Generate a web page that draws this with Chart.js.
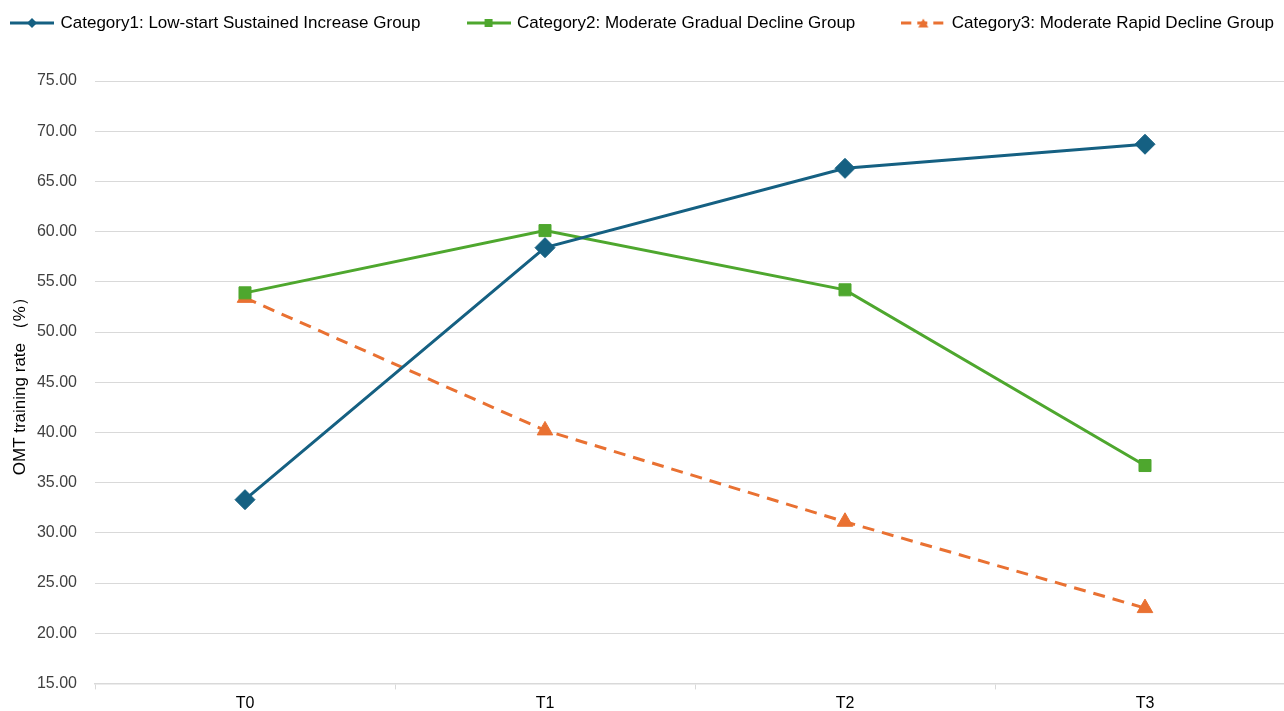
<!DOCTYPE html>
<html>
<head>
<meta charset="utf-8">
<script src="https://cdn.jsdelivr.net/npm/chart.js@4/dist/chart.umd.min.js"></script>
<style>
  html, body { margin: 0; padding: 0; background: #ffffff; overflow: hidden; }
  #wrap { width: 1284px; height: 711px; overflow: hidden; position: relative; }
  #box { width: 1306px; height: 711px; position: absolute; left: 0; top: 0; }
</style>
</head>
<body>
<div id="wrap"><div id="box"><canvas id="c"></canvas></div></div>
<script>
const categories = ['T0', 'T1', 'T2', 'T3'];
const seriesNames = [
  'Category1: Low-start Sustained Increase Group',
  'Category2: Moderate Gradual Decline Group',
  'Category3: Moderate Rapid Decline Group'
];
const category1 = [33.3, 58.4, 66.3, 68.7];
const category2 = [53.9, 60.1, 54.2, 36.7];
const category3 = [53.4, 40.2, 31.1, 22.5];
const yTicks = [15, 20, 25, 30, 35, 40, 45, 50, 55, 60, 65, 70, 75];
const yTitle = 'OMT training rate （%）';

const FONT = "'Liberation Sans', Arial, sans-serif";
const colors = ['#156082', '#4EA72E', '#E97132'];

function legendIcon(color, style, dashed) {
  const cv = document.createElement('canvas');
  cv.width = 44; cv.height = 14;
  const ctx = cv.getContext('2d');
  ctx.strokeStyle = color; ctx.fillStyle = color; ctx.lineWidth = 3;
  if (dashed) ctx.setLineDash([10, 6]);
  ctx.beginPath(); ctx.moveTo(0, 7); ctx.lineTo(44, 7); ctx.stroke();
  ctx.setLineDash([]);
  ctx.beginPath();
  if (style === 'diamond') {
    ctx.moveTo(22, 2); ctx.lineTo(27, 7); ctx.lineTo(22, 12); ctx.lineTo(17, 7);
  } else if (style === 'square') {
    ctx.rect(18, 3, 8, 8);
  } else {
    ctx.moveTo(22, 2.5); ctx.lineTo(27, 11.5); ctx.lineTo(17, 11.5);
  }
  ctx.closePath(); ctx.fill();
  return cv;
}
const icons = [legendIcon(colors[0], 'diamond'), legendIcon(colors[1], 'square'), legendIcon(colors[2], 'triangle', true)];

const legendFix = {
  id: 'legendFix',
  beforeLayout(chart) {
    const lg = chart.legend;
    if (lg && !lg._fixed) {
      const orig = lg.fit;
      lg.fit = function () {
        const mw = this.maxWidth;
        this.maxWidth = 4000;
        orig.call(this);
        this.maxWidth = mw;
        this.width = mw;
        this.height = 114.5;
      };
      lg._fixed = true;
    }
  },
  afterLayout(chart) {
    const lg = chart.legend;
    if (lg) {
      const pad = lg.options.labels.padding;
      const lw = lg.lineWidths ? lg.lineWidths[0] : 0;
      const R = 1400;
      const L = 2 * 12 + lw - pad - R;
      lg.left = L; lg.right = R; lg.width = R - L;
    }
  }
};

new Chart(document.getElementById('c'), {
  type: 'line',
  data: {
    labels: categories,
    datasets: [
      { label: seriesNames[0], data: category1, borderColor: colors[0], backgroundColor: colors[0],
        borderWidth: 3, pointStyle: 'rectRot', pointRadius: 10, pointHoverRadius: 10, pointBorderWidth: 1, tension: 0 },
      { label: seriesNames[1], data: category2, borderColor: colors[1], backgroundColor: colors[1],
        borderWidth: 3, pointStyle: 'rect', pointRadius: 8.5, pointHoverRadius: 8.5, pointBorderWidth: 1, tension: 0 },
      { label: seriesNames[2], data: category3, borderColor: colors[2], backgroundColor: colors[2],
        borderWidth: 3, borderDash: [12, 8], pointStyle: 'triangle', pointRadius: 9, pointHoverRadius: 9, pointBorderWidth: 1, tension: 0 }
    ]
  },
  options: {
    responsive: true,
    maintainAspectRatio: false,
    animation: false,
    layout: { padding: { top: -33.5, left: 0, right: 0, bottom: 0 } },
    plugins: {
      tooltip: { enabled: false },
      legend: {
        position: 'top',
        labels: {
          usePointStyle: true,
          pointStyleWidth: 40,
          padding: 48,
          color: '#000000',
          font: { family: FONT, size: 17 },
          generateLabels(chart) {
            return chart.data.datasets.map((ds, i) => ({
              text: ds.label, pointStyle: icons[i], fillStyle: colors[i], strokeStyle: colors[i],
              lineWidth: 0, hidden: false, datasetIndex: i, fontColor: '#000000'
            }));
          }
        }
      }
    },
    scales: {
      x: {
        type: 'category',
        offset: true,
        afterFit(scale) { scale.height = 27; },
        grid: { offset: true, drawOnChartArea: false, drawTicks: true, tickLength: 6, color: '#d9d9d9', lineWidth: 1 },
        border: { display: true, color: '#d9d9d9', width: 1.5 },
        ticks: { color: '#000000', font: { family: FONT, size: 16 }, padding: 5 }
      },
      y: {
        min: 15, max: 75,
        afterBuildTicks(scale) { scale.ticks = yTicks.map(v => ({ value: v })); },
        afterFit(scale) { scale.width = 95; },
        grid: { color: '#d9d9d9', lineWidth: 1, drawTicks: false },
        border: { display: false },
        ticks: { color: '#404040', font: { family: FONT, size: 16 }, padding: 18,
                 callback: v => Number(v).toFixed(2) },
        title: { display: true, text: yTitle, color: '#000000', font: { family: FONT, size: 17 }, padding: { top: 10, bottom: 0 } }
      }
    }
  },
  plugins: [legendFix]
});
</script>
</body>
</html>
